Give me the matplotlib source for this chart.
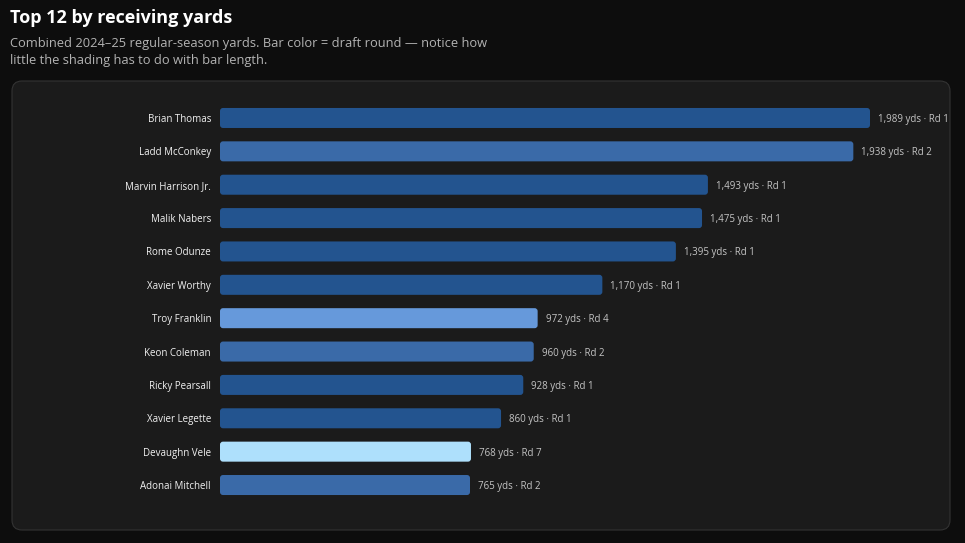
import matplotlib.pyplot as plt
from matplotlib.patches import FancyBboxPatch

# data
players = ['Brian Thomas', 'Ladd McConkey', 'Marvin Harrison Jr.', 'Malik Nabers',
           'Rome Odunze', 'Xavier Worthy', 'Troy Franklin', 'Keon Coleman',
           'Ricky Pearsall', 'Xavier Legette', 'Devaughn Vele', 'Adonai Mitchell']
yards = [1989, 1938, 1493, 1475, 1395, 1170, 972, 960, 928, 860, 768, 765]
draft_round = [1, 2, 1, 1, 1, 1, 4, 2, 1, 1, 7, 2]

round_colors = {1: '#23548f', 2: '#3a6aa8', 4: '#6699db', 7: '#aee0fc'}

W, H = 965, 543


def main():
    plt.rcParams['font.family'] = ['Open Sans', 'DejaVu Sans']
    fig = plt.figure(figsize=(W / 100, H / 100), dpi=100)
    fig.patch.set_facecolor('#0d0d0d')

    # rounded panel behind the chart
    panel = FancyBboxPatch((12 / W, 1 - 530 / H), 938 / W, 449 / H,
                           boxstyle='round,pad=0,rounding_size=%f' % (10 / W),
                           mutation_aspect=W / H, transform=fig.transFigure,
                           facecolor='#1b1b1b', edgecolor='#333333', linewidth=0.8,
                           zorder=-10)
    fig.patches.append(panel)

    # title and subtitle
    fig.text(10 / W, 1 - 23 / H, 'Top 12 by receiving yards', color='white',
             fontsize=13, fontweight='bold', va='baseline')
    fig.text(10 / W, 1 - 47 / H,
             'Combined 2024\u201325 regular-season yards. Bar color = draft round \u2014 notice how',
             color='#b3b3b3', fontsize=9.3, va='baseline')
    fig.text(10 / W, 1 - 64 / H, 'little the shading has to do with bar length.',
             color='#b3b3b3', fontsize=9.3, va='baseline')

    # axes: bars start at x=220, 1989 yds ends at x=870
    left, right = 220, 870
    top, bottom = 101.3, 501.7
    ax = fig.add_axes([left / W, 1 - bottom / H, (right - left) / W, (bottom - top) / H])
    ax.set_facecolor('none')
    n = len(players)
    ax.set_xlim(0, 1989)
    ax.set_ylim(n - 0.5, -0.5)
    ax.axis('off')

    colors = [round_colors[r] for r in draft_round]
    bars = ax.barh(range(n), yards, height=0.6, color=colors)

    # swap the plain rectangles for slightly rounded ones
    x_per_px = 1989 / (right - left)
    y_per_px = n / (bottom - top)
    for b in bars:
        b.set_visible(False)
        rb = FancyBboxPatch((b.get_x(), b.get_y()), b.get_width(), b.get_height(),
                            boxstyle='round,pad=0,rounding_size=%f' % (3 * x_per_px),
                            mutation_aspect=y_per_px / x_per_px,
                            facecolor=b.get_facecolor(), edgecolor='none', clip_on=False)
        ax.add_patch(rb)

    for i, (name, yd, rd) in enumerate(zip(players, yards, draft_round)):
        ax.text(-9 * x_per_px, i, name, ha='right', va='center_baseline', color='#f2f2f2',
                fontsize=7, clip_on=False)
        ax.text(yd + 8 * x_per_px, i, f'{yd:,} yds \u00b7 Rd {rd}', ha='left',
                va='center_baseline', color='#c4c4c4', fontsize=7, clip_on=False)

    fig.savefig('out.png', dpi=100, facecolor=fig.get_facecolor())
    plt.close(fig)


if __name__ == '__main__':
    main()
